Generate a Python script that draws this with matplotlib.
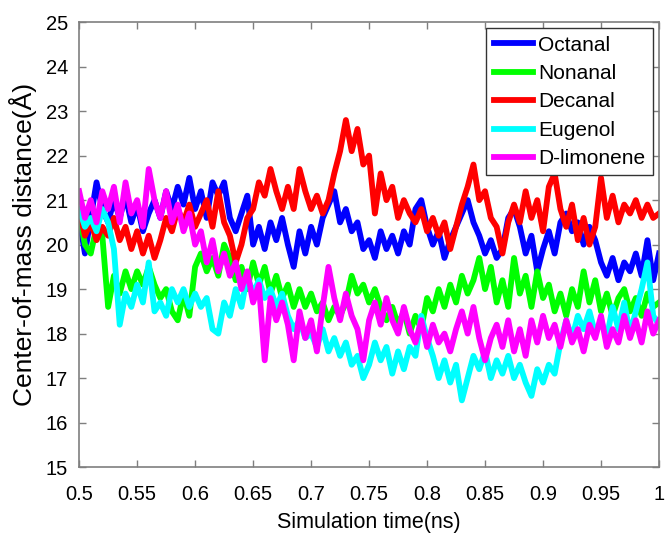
import numpy as np
import matplotlib as mpl
mpl.use('Agg')
import matplotlib.pyplot as plt
from matplotlib.ticker import FormatStrFormatter

# time axis, 0.005 ns steps
t = np.linspace(0.5, 1.0, 101)

octanal = [20.6, 19.8, 20.6, 21.4, 20.8, 20.5, 21.0, 20.6, 21.1, 20.5,
           20.9, 20.3, 20.7, 21.0, 20.6, 21.2, 20.8, 21.3, 20.9, 21.5,
           20.8, 21.2, 20.6, 21.4, 21.1, 21.4, 20.6, 20.3, 20.7, 21.1,
           20.0, 20.4, 19.9, 20.5, 20.1, 20.6, 20.0, 19.5, 20.3, 19.8,
           20.4, 20.0, 20.6, 20.9, 21.2, 20.5, 20.8, 20.3, 20.5, 19.9,
           20.1, 19.7, 20.3, 19.9, 20.2, 19.8, 20.3, 20.0, 20.8, 21.0,
           20.4, 20.0, 20.3, 19.7, 20.1, 20.4, 20.7, 21.0, 20.5, 20.2,
           19.8, 20.1, 19.7, 19.9, 20.6, 20.8, 20.4, 19.8, 20.2, 19.4,
           19.9, 20.3, 19.8, 20.5, 20.7, 20.3, 20.5, 20.0, 20.4, 20.1,
           19.6, 19.3, 19.7, 19.2, 19.6, 19.4, 19.8, 19.3, 20.1, 19.2,
           19.8]

nonanal = [20.7, 20.0, 19.8, 20.4, 20.2, 18.6, 19.3, 18.9, 19.4, 19.0,
           19.4, 19.1, 19.5, 19.1, 18.8, 19.0, 18.5, 18.3, 18.9, 18.4,
           19.5, 19.8, 19.4, 19.7, 19.3, 20.0, 19.7, 19.2, 19.5, 19.0,
           19.6, 19.1, 19.5, 18.9, 19.3, 18.8, 19.1, 18.6, 19.0, 18.6,
           18.9, 18.5, 18.7, 18.3, 18.6, 18.4, 18.7, 19.3, 18.9, 19.1,
           18.7, 19.0, 18.6, 18.3, 18.6, 18.2, 18.5, 18.0, 18.4, 18.1,
           18.8, 18.5, 19.0, 18.6, 19.1, 18.7, 19.3, 18.9, 19.2, 19.7,
           19.0, 19.5, 18.7, 19.2, 18.6, 19.7, 18.9, 19.3, 18.6, 19.4,
           18.8, 19.1, 18.5, 18.9, 18.4, 19.0, 18.6, 19.4, 18.7, 19.2,
           18.5, 18.9, 18.4, 18.8, 19.0, 18.5, 18.8, 18.4, 18.9, 18.6,
           18.7]

decanal = [20.8, 20.2, 20.5, 20.1, 20.4, 20.2, 20.6, 20.1, 20.4, 19.9,
           20.3, 19.8, 20.2, 19.7, 20.1, 20.6, 20.3, 20.8, 20.5, 20.9,
           20.4, 20.7, 21.0, 20.4, 21.2, 20.5, 20.2, 19.6, 20.0, 20.6,
           20.8, 21.4, 21.1, 21.7, 21.2, 20.8, 21.3, 20.8, 21.7, 21.2,
           20.8, 21.1, 20.7, 21.0, 21.6, 22.1, 22.8, 22.1, 22.6, 21.8,
           22.0, 20.7, 21.6, 21.0, 21.3, 20.6, 21.0, 20.7, 20.5, 20.8,
           20.3, 20.6, 20.2, 20.5, 19.9, 20.4, 20.9, 21.3, 21.8, 21.0,
           21.2, 20.6, 20.4, 19.8, 20.5, 20.9, 20.5, 21.2, 20.6, 21.0,
           20.3, 21.3, 21.6, 20.8, 20.4, 20.9, 20.1, 20.6, 20.0, 20.4,
           21.5, 20.6, 21.1, 20.5, 20.9, 20.7, 21.0, 20.6, 20.9, 20.6,
           20.7]

eugenol = [20.8, 20.4, 20.6, 20.3, 20.8, 20.5, 19.9, 18.2, 18.9, 18.6,
           19.1, 18.7, 19.6, 18.5, 18.7, 18.4, 19.0, 18.7, 19.0, 18.6,
           18.9, 18.6, 18.8, 18.1, 18.0, 18.7, 18.4, 19.0, 18.6, 19.3,
           18.9, 19.2, 18.8, 19.0, 18.6, 18.9, 18.4, 18.1, 18.3, 17.9,
           18.0, 17.7, 18.1, 17.6, 17.9, 17.5, 17.8, 17.3, 17.5, 17.0,
           17.3, 17.8, 17.4, 17.7, 17.1, 17.6, 17.2, 17.7, 17.5, 18.4,
           17.9, 17.5, 17.0, 17.4, 16.9, 17.3, 16.5, 17.0, 17.5, 17.2,
           17.6, 17.0, 17.4, 17.1, 17.5, 17.0, 17.3, 16.9, 16.6, 17.2,
           16.9, 17.3, 17.1, 17.8, 18.3, 17.9, 18.4, 18.1, 18.5, 18.0,
           18.3, 17.9, 18.6, 18.1, 18.7, 18.0, 18.5, 19.0, 19.6, 18.4,
           18.2]

limonene = [21.2, 20.6, 21.0, 20.5, 21.2, 20.8, 21.3, 20.5, 21.4, 20.7,
            21.0, 20.4, 21.7, 21.0, 20.6, 21.2, 20.5, 20.9, 20.3, 20.7,
            20.0, 20.3, 19.6, 20.1, 19.4, 19.8, 19.3, 19.6, 19.0, 19.4,
            18.7, 19.1, 17.4, 18.8, 18.3, 18.7, 18.2, 17.4, 18.5, 17.9,
            18.3, 17.6, 18.6, 19.5, 18.8, 18.3, 18.9, 18.4, 18.1, 17.4,
            18.3, 18.7, 18.2, 18.8, 18.3, 18.0, 18.6, 18.1, 17.8, 18.3,
            17.7, 18.2, 17.8, 18.0, 17.6, 18.1, 18.5, 18.0, 18.6, 17.9,
            17.4, 17.9, 18.2, 17.7, 18.3, 17.6, 18.1, 17.5, 18.3, 17.8,
            18.4, 17.9, 18.2, 17.7, 18.3, 17.8, 18.1, 17.6, 18.2, 17.9,
            18.4, 17.7, 18.1, 17.8, 18.4, 17.9, 18.3, 17.8, 18.5, 18.0,
            18.3]

names = ['Octanal', 'Nonanal', 'Decanal', 'Eugenol', 'D-limonene']
colors = ['#0000ff', '#00ff00', '#ff0000', '#00ffff', '#ff00ff']
series = [octanal, nonanal, decanal, eugenol, limonene]

plt.rcParams['font.family'] = ['Liberation Sans', 'DejaVu Sans']

fig = plt.figure(figsize=(6.65, 5.4), dpi=100)
ax = fig.add_axes([0.119, 0.135, 0.872, 0.824])

for y, c, n in zip(series, colors, names):
    ax.plot(t, y, color=c, lw=4.2, label=n, solid_joinstyle='round')

ax.set_xlim(0.5, 1.0)
ax.set_ylim(15, 25)
ax.set_xticks(np.arange(0.5, 1.001, 0.05))
ax.set_yticks(np.arange(15, 26, 1))
ax.xaxis.set_major_formatter(FormatStrFormatter('%g'))

for s in ax.spines.values():
    s.set_color('#7f7f7f')
    s.set_linewidth(1.2)
ax.tick_params(direction='in', length=5, width=1, color='#7f7f7f',
               labelsize=14.5, top=True, right=True)
ax.tick_params(axis='x', pad=13)
ax.tick_params(axis='y', pad=8)

ax.set_xlabel('Simulation time(ns)', fontsize=15.5, labelpad=6)
ax.set_ylabel('Center-of-mass distance(Å)', fontsize=19, labelpad=6)

leg = ax.legend(loc='upper right', fontsize=15, fancybox=False,
                edgecolor='#333333', framealpha=1, borderaxespad=0.3,
                handlelength=1.9, handletextpad=0.25, labelspacing=0.45,
                borderpad=0.35)
leg.get_frame().set_linewidth(1)

fig.savefig('out.png', dpi=100)
